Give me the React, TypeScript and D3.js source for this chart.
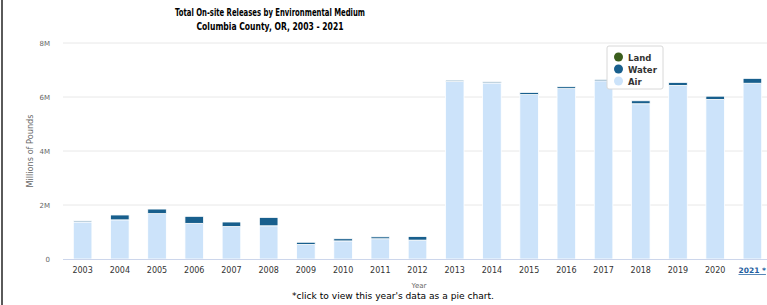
import React from "react";
import * as d3 from "d3";

const years = ["2003","2004","2005","2006","2007","2008","2009","2010","2011","2012","2013","2014","2015","2016","2017","2018","2019","2020","2021"];
const airValues = [1.37,1.45,1.68,1.32,1.20,1.23,0.54,0.67,0.75,0.70,6.58,6.52,6.09,6.31,6.60,5.75,6.43,5.91,6.51];
const waterValues = [0.04,0.18,0.17,0.26,0.17,0.31,0.08,0.08,0.07,0.13,0.04,0.04,0.08,0.07,0.05,0.11,0.11,0.12,0.18];
const landValues = [0,0,0,0,0,0,0,0,0,0,0,0,0,0,0,0,0,0,0];
const yTicks = [0, 2, 4, 6, 8];
const yTickLabels = ["0", "2M", "4M", "6M", "8M"];
const seriesNames = ["Land", "Water", "Air"];

const COLORS: Record<string, string> = { Air: "#cce3fa", Water: "#185f8d", Land: "#3b5e1d" };

export default function App() {
  const W = 767, H = 305;
  const x = d3.scaleBand<string>().domain(years).range([64, 771]).paddingInner(0.5).paddingOuter(0.25);
  const y = d3.scaleLinear().domain([0, 8]).range([259, 43]);
  const rows = years.map((yr, i) => ({ year: yr, Air: airValues[i], Water: waterValues[i], Land: landValues[i] }));
  const stack = d3.stack<any>().keys(["Air", "Water", "Land"]);
  const layers = stack(rows);
  const font = "'DejaVu Sans', Verdana, sans-serif";

  return (
    <svg width={W} height={H} style={{ position: "absolute", left: 0, top: 0, background: "#fff" }}>
      <rect x={0} y={0} width={W} height={H} fill="#fff" />
      <rect x={1} y={0} width={2} height={H} fill="#5a5a5a" />
      {/* title */}
      <text x={270} y={15.5} textAnchor="middle" fontFamily={font} fontWeight="bold" fontSize={10.5} fill="#000" textLength={190} lengthAdjust="spacingAndGlyphs">Total On-site Releases by Environmental Medium</text>
      <text x={270} y={29.5} textAnchor="middle" fontFamily={font} fontWeight="bold" fontSize={10.5} fill="#000" textLength={147} lengthAdjust="spacingAndGlyphs">Columbia County, OR, 2003 - 2021</text>
      {/* grid */}
      {yTicks.map((t, i) => (
        <g key={t}>
          {t !== 0 && <line x1={63} x2={W} y1={y(t)} y2={y(t)} stroke="#e8e8e8" strokeWidth={1} />}
          <text x={50} y={y(t) + 2.5} textAnchor="end" fontFamily={font} fontSize={7} fill="#666">{yTickLabels[i]}</text>
        </g>
      ))}
      <text transform={`translate(33,${151}) rotate(-90)`} textAnchor="middle" fontFamily={font} fontSize={8.5} fill="#666" textLength={73} lengthAdjust="spacingAndGlyphs">Millions of Pounds</text>
      {/* bars */}
      {layers.map((layer) => (
        <g key={layer.key}>
          {layer.map((d, i) => {
            const h = y(d[0]) - y(d[1]);
            if (h <= 0) return null;
            return (
              <rect key={i} x={x(years[i])!} y={y(d[1])} width={x.bandwidth()} height={h}
                fill={COLORS[layer.key]} stroke="#fff" strokeWidth={0.8} />
            );
          })}
        </g>
      ))}
      <line x1={63} x2={W} y1={259.5} y2={259.5} stroke="#ccd6eb" strokeWidth={1} />
      {/* x labels */}
      {years.map((yr, i) => {
        const cx = x(yr)! + x.bandwidth() / 2;
        const last = i === years.length - 1;
        return (
          <text key={yr} x={last ? 738.5 : cx} y={273} textAnchor={last ? "start" : "middle"} fontFamily={font} fontSize={last ? 7.5 : 8} fill={last ? "#1f5f9f" : "#333"} fontWeight={last ? "bold" : "normal"} textDecoration={last ? "underline" : "none"}>
            {last ? yr + " *" : yr}
          </text>
        );
      })}
      <text x={419} y={288} textAnchor="middle" fontFamily={font} fontSize={7} fill="#666">Year</text>
      <text x={393} y={299} textAnchor="middle" fontFamily={font} fontSize={9.5} fill="#000" textLength={202} lengthAdjust="spacingAndGlyphs">*click to view this year's data as a pie chart.</text>
      {/* legend */}
      <g>
        <rect x={607} y={46} width={56} height={43} rx={2} fill="#fff" stroke="#d8d8d8" strokeWidth={1} />
        {seriesNames.map((name, i) => (
          <g key={name}>
            <circle cx={618.5} cy={57 + i * 12} r={4.5} fill={COLORS[name]} />
            <text x={628} y={60.5 + i * 12} fontFamily={font} fontSize={8.5} fontWeight="bold" fill="#333">{name}</text>
          </g>
        ))}
      </g>
    </svg>
  );
}
